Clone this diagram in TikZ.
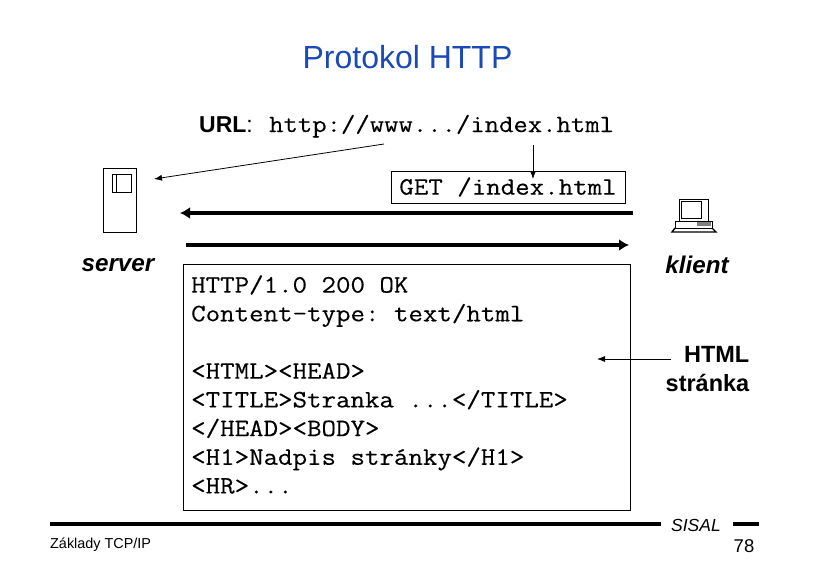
\documentclass[tikz,border=0pt]{standalone}
\usepackage{fontspec}
\setmainfont{Liberation Sans}
\setmonofont[FakeStretch=1.125,FakeBold=0.3]{Latin Modern Mono}
\usetikzlibrary{arrows.meta}
\definecolor{titleblue}{HTML}{1A49B8}
\tikzset{
  lab/.style={font=\fontsize{24.2}{28}\selectfont\bfseries\itshape, inner sep=0pt},
  code/.style={font=\fontsize{25}{28.7}\selectfont\ttfamily, inner sep=0pt, align=left},
  thin arrow/.style={line width=0.8pt, -{Latex[length=8pt,width=6pt]}},
  thick arrow/.style={line width=4pt, -{Latex[length=10pt,width=12pt]}},
  icon/.style={line width=0.9pt, fill=white},
  footrule/.style={line width=3.2pt}
}
\begin{document}
\begin{tikzpicture}[x=1pt,y=-1pt]
\useasboundingbox (0,0) rectangle (813,570);
\node[text=titleblue, font=\fontsize{32}{36}\selectfont] (title) at (407.5,57) {Protokol HTTP};
% url line
\node[anchor=base west, font=\fontsize{23}{28}\selectfont, inner sep=0pt] (urlname) at (199,132) {\textbf{URL}:};
\node[anchor=base west, font=\fontsize{24.8}{28}\selectfont\ttfamily, inner sep=0pt] (url) at (269,132) {http://www.../index.html};
% server
\node[draw, icon, minimum width=33pt, minimum height=64pt, inner sep=0pt] (server) at (119.5,200) {};
\node[draw, icon, minimum width=19pt, minimum height=18pt, inner sep=0pt] (slot) at (121.5,183) {};
\draw[line width=0.9pt] (116,174) -- (116,192);
\node[lab] (serverlab) at (118,265) {server};
% klient
\node[draw, icon, minimum width=29pt, minimum height=22pt, inner sep=0pt] (monitor) at (693.5,210) {};
\node[draw, line width=0.6pt, minimum width=20pt, minimum height=17pt, inner sep=0pt] (screen) at (691,210) {};
\draw[line width=0.9pt, fill=white] (675,221) -- (712,221) -- (712,228) -- (675,228) -- cycle;
\fill[gray] (697,222) rectangle (711,226);
\draw[line width=1.4pt] (675,228) -- (672,232) -- (716,232) -- (712,228);
\node[lab] (klientlab) at (697,265) {klient};
% request
\node[draw, line width=0.8pt, font=\fontsize{25}{28}\selectfont\ttfamily, minimum width=234pt, minimum height=32pt, inner sep=0pt] (get) at (508,187) {GET /index.html};
\coordinate (urlend) at (533,145);
\coordinate (urlleft) at (384,144);
\coordinate (slotend) at (154,179);
\coordinate (getin) at (533,179);
\draw[thin arrow] (urlleft) -- (slotend);
\draw[thin arrow] (urlend) -- (getin);
% arrows
\coordinate (reqstart) at (633,213);
\coordinate (reqend) at (180,213);
\coordinate (respstart) at (186,245);
\coordinate (respend) at (629,245);
\draw[thick arrow] (reqstart) -- (reqend);
\draw[thick arrow] (respstart) -- (respend);
% response
\node[draw, line width=0.8pt, minimum width=447pt, minimum height=246pt, inner sep=0pt] (resp) at (406.5,387) {};
\node[code, anchor=north west] (resptext) at (191,275) {HTTP/1.0 200 OK\\Content-type: text/html\\[28.7pt]%
<HTML><HEAD>\\<TITLE>Stranka ...</TITLE>\\</HEAD><BODY>\\<H1>Nadpis stránky</H1>\\<HR>...};
% page label
\node[anchor=east, font=\fontsize{23.5}{28.5}\selectfont\bfseries, align=right, inner sep=0pt] (page) at (749.5,369) {HTML\\stránka};
\coordinate (pagestart) at (671,359);
\coordinate (pageend) at (597,359);
\draw[thin arrow] (pagestart) -- (pageend);
% footer
\coordinate (footl) at (50,524);
\coordinate (footm) at (661,524);
\coordinate (footn) at (733,524);
\coordinate (footr) at (759,524);
\draw[footrule] (footl) -- (footm);
\draw[footrule] (footn) -- (footr);
\node[anchor=base west, font=\fontsize{14.4}{16}\selectfont, inner sep=0pt] (topic) at (50,548) {Základy TCP/IP};
\node[anchor=base, font=\fontsize{17.5}{20}\selectfont\itshape, inner sep=0pt] (sisal) at (696,531) {SISAL};
\node[anchor=base, font=\fontsize{18.5}{20}\selectfont, inner sep=0pt] (pagenum) at (744,552) {78};
\end{tikzpicture}
\end{document}
